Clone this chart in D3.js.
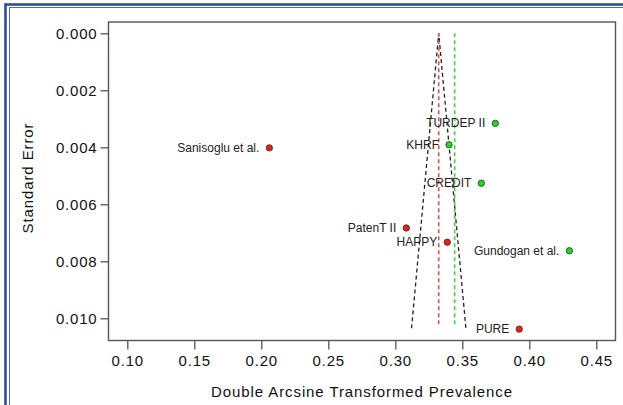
<!DOCTYPE html>
<html lang="en">
    <head>
        <meta charset="UTF-8" />
        <title>Funnel plot</title>
        <style>
            body { margin: 0; background: #fff; }
            text { font-family: "Liberation Sans", Arial, sans-serif; }
        </style>
    </head>
    <body>
        <div id="main"></div>
        <script src="https://cdn.jsdelivr.net/npm/d3@7"></script>
        <script>
            // studies
            const studies = ["Sanisoglu et al.", "TURDEP II", "KHRF", "CREDIT", "PatenT II", "HAPPY", "Gundogan et al.", "PURE"]
            const prevalence = [0.206, 0.3746, 0.3401, 0.3642, 0.3082, 0.3388, 0.4299, 0.3925]
            const stdError = [0.00402, 0.00316, 0.00391, 0.00526, 0.00683, 0.00733, 0.00763, 0.01038]
            const group = ["red", "green", "green", "green", "red", "red", "green", "red"]
            // pooled estimates
            const fixedEstimate = 0.3324
            const randomEstimate = 0.3443
            const funnelMaxSE = 0.01035
            const xTicks = [0.1, 0.15, 0.2, 0.25, 0.3, 0.35, 0.4, 0.45]
            const yTicks = [0, 0.002, 0.004, 0.006, 0.008, 0.01]

            const svgWidth = 623
            const svgHeight = 405
            const box = { left: 108.5, top: 22, right: 615.5, bottom: 340.5 }
            const colors = { red: "#e8200e", green: "#1fd81f" }

            const svg = d3.select("#main").append("svg")
                .attr("width", svgWidth)
                .attr("height", svgHeight)

            // blue frame
            svg.append("rect")
                .attr("x", 5.5).attr("y", 4.5)
                .attr("width", 700).attr("height", 500)
                .attr("fill", "none")
                .attr("stroke", "#2c4c9f")
                .attr("stroke-width", 2.6)
            svg.append("rect")
                .attr("x", 9.5).attr("y", 7.5)
                .attr("width", 700).attr("height", 500)
                .attr("fill", "none")
                .attr("stroke", "#4a6bbf")
                .attr("stroke-width", 1)

            const x = d3.scaleLinear().domain([0.1, 0.45]).range([127.3, 596.3])
            const y = d3.scaleLinear().domain([0, 0.01]).range([33.3, 318.3])

            // plot box
            svg.append("rect")
                .attr("x", box.left).attr("y", box.top)
                .attr("width", box.right - box.left)
                .attr("height", box.bottom - box.top)
                .attr("fill", "none")
                .attr("stroke", "#555")
                .attr("stroke-width", 1.4)

            // axes
            const xAxis = svg.append("g")
                .attr("transform", `translate(0, ${box.bottom})`)
                .call(d3.axisBottom(x).tickValues(xTicks).tickFormat(d3.format(".2f")).tickSize(9).tickPadding(6))
            xAxis.select(".domain").remove()
            const yAxis = svg.append("g")
                .attr("transform", `translate(${box.left}, 0)`)
                .call(d3.axisLeft(y).tickValues(yTicks).tickFormat(d3.format(".3f")).tickSize(8).tickPadding(3))
            yAxis.select(".domain").remove()
            svg.selectAll(".tick line").attr("stroke", "#555").attr("stroke-width", 1.3)
            svg.selectAll(".tick text")
                .attr("font-size", 15)
                .attr("font-family", "Liberation Sans, Arial, sans-serif")
                .attr("letter-spacing", 0.8)
                .attr("fill", "#111")

            // axis titles
            svg.append("text")
                .attr("x", (box.left + box.right) / 2)
                .attr("y", 397)
                .attr("text-anchor", "middle")
                .attr("font-size", 15)
                .attr("letter-spacing", 0.9)
                .attr("fill", "#111")
                .text("Double Arcsine Transformed Prevalence")
            svg.append("text")
                .attr("transform", `translate(33, 178) rotate(-90)`)
                .attr("text-anchor", "middle")
                .attr("font-size", 15)
                .attr("letter-spacing", 0.9)
                .attr("fill", "#111")
                .text("Standard Error")

            // funnel
            const funnel = [
                [fixedEstimate - 1.96 * funnelMaxSE, funnelMaxSE],
                [fixedEstimate, 0],
                [fixedEstimate + 1.96 * funnelMaxSE, funnelMaxSE]
            ]
            svg.append("path")
                .attr("d", d3.line().x((d) => x(d[0])).y((d) => y(d[1]))(funnel))
                .attr("fill", "none")
                .attr("stroke", "#222")
                .attr("stroke-width", 1.3)
                .attr("stroke-dasharray", "4,3")

            // pooled lines
            const pooled = [
                { value: fixedEstimate, color: "#f24a4a" },
                { value: randomEstimate, color: "#33dd33" }
            ]
            svg.selectAll("line.pooled")
                .data(pooled)
                .enter()
                .append("line")
                .classed("pooled", true)
                .attr("x1", (d) => x(d.value))
                .attr("x2", (d) => x(d.value))
                .attr("y1", y(0))
                .attr("y2", y(0.0102))
                .attr("stroke", (d) => d.color)
                .attr("stroke-width", 1.6)
                .attr("stroke-dasharray", "4,3")

            // study points
            const points = studies.map((name, i) => ({
                name, x: prevalence[i], se: stdError[i], group: group[i]
            }))
            svg.selectAll("circle.study")
                .data(points)
                .enter()
                .append("circle")
                .classed("study", true)
                .attr("cx", (d) => x(d.x))
                .attr("cy", (d) => y(d.se))
                .attr("r", 3.2)
                .attr("fill", (d) => colors[d.group])
                .attr("stroke", "#333")
                .attr("stroke-width", 0.8)
            svg.selectAll("text.study")
                .data(points)
                .enter()
                .append("text")
                .classed("study", true)
                .attr("x", (d) => x(d.x) - 10)
                .attr("y", (d) => y(d.se) + 4)
                .attr("text-anchor", "end")
                .attr("font-size", 12)
                .attr("fill", "#222")
                .text((d) => d.name)
        </script>
    </body>
</html>
